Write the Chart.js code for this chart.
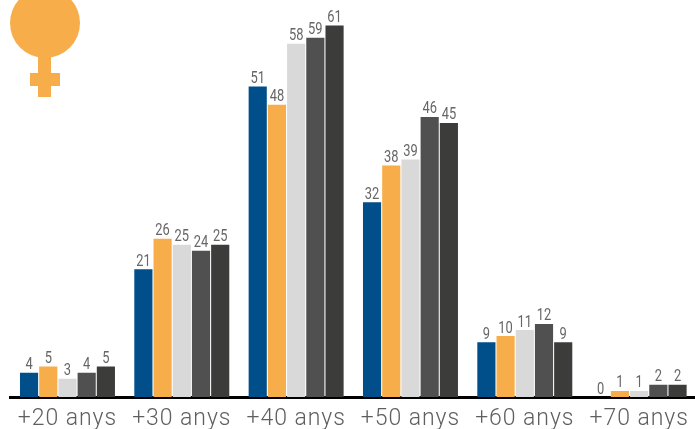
<!DOCTYPE html>
<html><head><meta charset="utf-8">
<style>html,body{margin:0;padding:0;background:#fff;overflow:hidden}#w{width:695px;height:429px;overflow:hidden}canvas{display:block}</style>
<script src="https://cdn.jsdelivr.net/npm/chart.js@4"></script>
</head><body><div id="w"><canvas id="c" width="697" height="429" style="width:697px;height:429px"></canvas></div>
<script>
const categories = ['+20 anys','+30 anys','+40 anys','+50 anys','+60 anys','+70 anys'];
const seriesA = [4,21,51,32,9,0];
const seriesB = [5,26,48,38,10,1];
const seriesC = [3,25,58,39,11,1];
const seriesD = [4,24,59,46,12,2];
const seriesE = [5,25,61,45,9,2];
const colours = ['#004f8a','#f7ae4a','#d9d9d9','#505050','#3c3c3b'];
const allSeries = [seriesA,seriesB,seriesC,seriesD,seriesE];

const labelPlugin = {
  id:'valueLabels',
  beforeDraw(chart){ chart.ctx.letterSpacing = '0.95px'; },
  afterDatasetsDraw(chart){
    const ctx = chart.ctx;
    ctx.letterSpacing = '0px';
    chart.data.datasets.forEach((ds,i)=>{
      chart.getDatasetMeta(i).data.forEach((bar,j)=>{
        ctx.save();
        ctx.translate(bar.x, bar.y-3.5);
        ctx.scale(0.78,1);
        ctx.font = '400 16.5px Roboto';
        ctx.fillStyle = '#666666';
        ctx.textAlign = 'center';
        ctx.textBaseline = 'alphabetic';
        ctx.fillText(String(ds.data[j]),0,0);
        ctx.restore();
      });
    });
  }
};
const iconPlugin = {
  id:'venus',
  afterDraw(chart){
    const ctx = chart.ctx;
    ctx.save();
    ctx.fillStyle = '#f7ae4a';
    ctx.beginPath();
    ctx.arc(45,23,35,0,Math.PI*2);
    ctx.fill();
    ctx.fillRect(38,55,13,42);
    ctx.fillRect(30,73,30,13);
    ctx.restore();
  }
};
new Chart(document.getElementById('c'),{
  type:'bar',
  data:{labels:categories,datasets:allSeries.map((d,i)=>({data:d,backgroundColor:colours[i],borderWidth:0,categoryPercentage:0.84,barPercentage:0.945}))},
  options:{
    responsive:false,animation:false,
    layout:{padding:{left:10.3,right:0.7,top:0,bottom:0}},
    plugins:{legend:{display:false},tooltip:{enabled:false}},
    scales:{
      y:{display:false,min:0,max:65.2},
      x:{
        afterFit(s){s.height=32;},
        grid:{display:false},
        border:{display:true,color:'#000',width:3},
        ticks:{color:'#5f5f5f',font:{family:'Roboto',size:23,weight:'300'},padding:0,maxRotation:0,autoSkip:false}
      }
    }
  },
  plugins:[labelPlugin,iconPlugin]
});
</script></body></html>
